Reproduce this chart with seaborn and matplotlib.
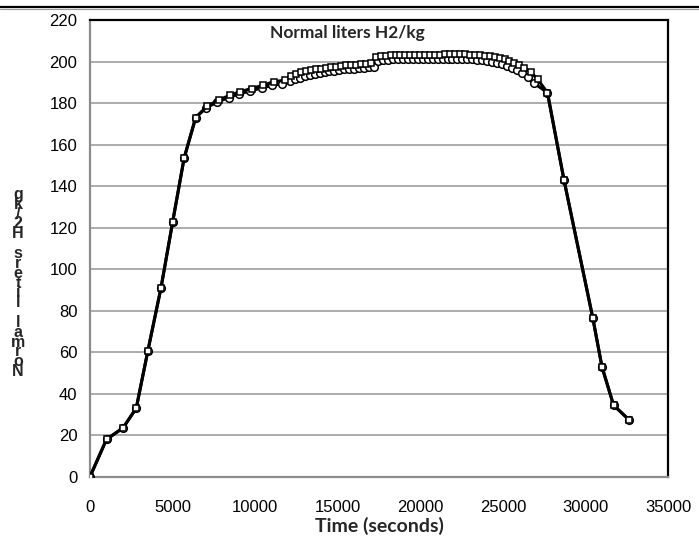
import numpy as np
import pandas as pd
import matplotlib
matplotlib.use("Agg")
import matplotlib.pyplot as plt
from matplotlib.ticker import MultipleLocator
from matplotlib.lines import Line2D
import seaborn as sns

# ---- data ----
time_a = [0, 1000, 2000, 2800, 3500, 4300, 5000, 5700, 6400, 7100, 7800, 8500, 9100,
          9800, 10500, 11150, 11800, 12200, 12500, 12800, 13100, 13400, 13700, 14000,
          14300, 14600, 14900, 15200, 15500, 15800, 16100, 16400, 16700, 17000, 17300,
          17600, 17900, 18200, 18500, 18800, 19100, 19400, 19700, 20000, 20300, 20600,
          20900, 21200, 21500, 21800, 22100, 22400, 22700, 23000, 23300, 23600, 23900,
          24200, 24500, 24800, 25100, 25400, 25700, 26000, 26300, 26700, 27100, 27700,
          28700, 30450, 31000, 31700, 32650]
nl_a = [0, 18, 23.5, 33, 60.5, 91, 122.5, 153.5, 173, 178.5, 181.5, 183.8, 185.5,
        187, 188.7, 190.3, 191, 193.2, 194.2, 194.8, 195.3, 195.8, 196.2, 196.6,
        197, 197.3, 197.6, 197.9, 198.1, 198.3, 198.5, 198.7, 198.9, 199.2, 202.2,
        202.5, 202.7, 202.9, 203.0, 203.1, 203.2, 203.2, 203.3, 203.3, 203.3, 203.3,
        203.3, 203.3, 203.4, 203.4, 203.4, 203.4, 203.4, 203.3, 203.2, 203.0, 202.8,
        202.5, 202.1, 201.6, 201.0, 200.2, 199.3, 198.2, 197.0, 194.8, 191.5, 185,
        143, 76.3, 53, 34.5, 27.3]

time_b = [0, 1000, 2000, 2800, 3500, 4300, 5000, 5700, 6400, 7000, 7700, 8400, 9000,
          9700, 10400, 11000, 11600, 12100, 12400, 12700, 13000, 13300, 13600, 13900,
          14200, 14500, 14800, 15100, 15400, 15700, 16000, 16300, 16600, 16900, 17200,
          17450, 17750, 18050, 18350, 18650, 18950, 19250, 19550, 19850, 20150, 20450,
          20750, 21050, 21350, 21650, 21950, 22250, 22550, 22850, 23150, 23450, 23750,
          24050, 24350, 24650, 24950, 25250, 25550, 25850, 26150, 26500, 26900, 27700,
          28700, 30450, 31000, 31700, 32650]
nl_b = [0, 18, 23.5, 33, 60.5, 91, 122.5, 153.5, 173, 177.5, 180.5, 182.6, 184.3,
        185.8, 187.3, 188.5, 189.3, 190.5, 191.5, 192.3, 193.0, 193.6, 194.1, 194.5,
        194.9, 195.3, 195.6, 195.9, 196.2, 196.4, 196.6, 196.8, 197.0, 197.2, 197.4,
        200.3, 200.6, 200.8, 201.0, 201.1, 201.2, 201.3, 201.3, 201.4, 201.4, 201.4,
        201.4, 201.4, 201.4, 201.4, 201.4, 201.4, 201.3, 201.2, 201.1, 200.9, 200.6,
        200.3, 199.9, 199.4, 198.8, 198.0, 197.1, 196.0, 194.6, 192.5, 189.5, 185,
        143, 76.3, 53, 34.5, 27.3]

ylabel_text = "Normal liters H2/kg"
xlabel_text = "Time (seconds)"
title_text = "Normal liters H2/kg"

df_a = pd.DataFrame({"t": time_a, "v": nl_a})
df_b = pd.DataFrame({"t": time_b, "v": nl_b})

sns.set_style("white")
plt.rcParams["font.family"] = ["Liberation Sans", "DejaVu Sans"]

fig = plt.figure(figsize=(6.99, 5.46), dpi=100)
ax = fig.add_axes([90 / 699, 1 - 476.7 / 546, (668 - 90) / 699, (476.7 - 20) / 546])

for df, mk, ms in [(df_b, "o", 5.5), (df_a, "s", 5)]:
    sns.lineplot(data=df, x="t", y="v", ax=ax, color="black", linewidth=2.2,
                 marker=mk, markersize=ms, markerfacecolor="white",
                 markeredgecolor="black", markeredgewidth=1.1, zorder=3)

ax.set_xlim(0, 35000)
ax.set_ylim(0, 220)
ax.xaxis.set_major_locator(MultipleLocator(5000))
ax.xaxis.set_minor_locator(MultipleLocator(1000))
ax.yaxis.set_major_locator(MultipleLocator(20))
ax.yaxis.set_minor_locator(MultipleLocator(5))
ax.grid(axis="y", which="major", color="#a6a6a6", linewidth=1.3)
ax.grid(axis="x", visible=False)
ax.set_axisbelow(True)

for s in ["left", "bottom"]:
    ax.spines[s].set_color("#8c8c8c")
    ax.spines[s].set_linewidth(1.6)
for s in ["top", "right"]:
    ax.spines[s].set_color("black")
    ax.spines[s].set_linewidth(1.6)

ax.tick_params(axis="both", which="major", direction="inout", length=10, width=1.3,
               color="#8c8c8c", labelsize=12, labelcolor="black", pad=4)
ax.tick_params(axis="both", which="minor", direction="inout", length=6, width=1.0,
               color="#8c8c8c")
ax.tick_params(axis="x", which="major", pad=12)
ax.tick_params(axis="y", which="major", pad=4)
ax.tick_params(top=False, right=False, which="both")

ax.set_xlabel(xlabel_text, fontsize=14, fontweight="bold", family=["Lato", "DejaVu Sans"],
              labelpad=1)
ax.set_ylabel("")

# stacked, unrotated y-axis label as in the reference
fig.text(18 / 699, 1 - 283 / 546, "\n".join(reversed(ylabel_text)), ha="center", va="center",
         fontsize=11.5, fontweight="bold", linespacing=0.57, family=["Liberation Sans", "DejaVu Sans"])

ax.text(0.445, 0.988, title_text, transform=ax.transAxes, ha="center", va="top",
        fontsize=12.5, fontweight="bold", family=["Lato", "DejaVu Sans"])

# header lines at the very top
fig.add_artist(Line2D([0, 1], [1 - 6.5 / 546] * 2, color="black", linewidth=1.6,
                      transform=fig.transFigure))
fig.add_artist(Line2D([0, 1], [1 - 9 / 546] * 2, color="#9a9a9a", linewidth=0.8,
                      transform=fig.transFigure))

fig.savefig("out.png", dpi=100)
